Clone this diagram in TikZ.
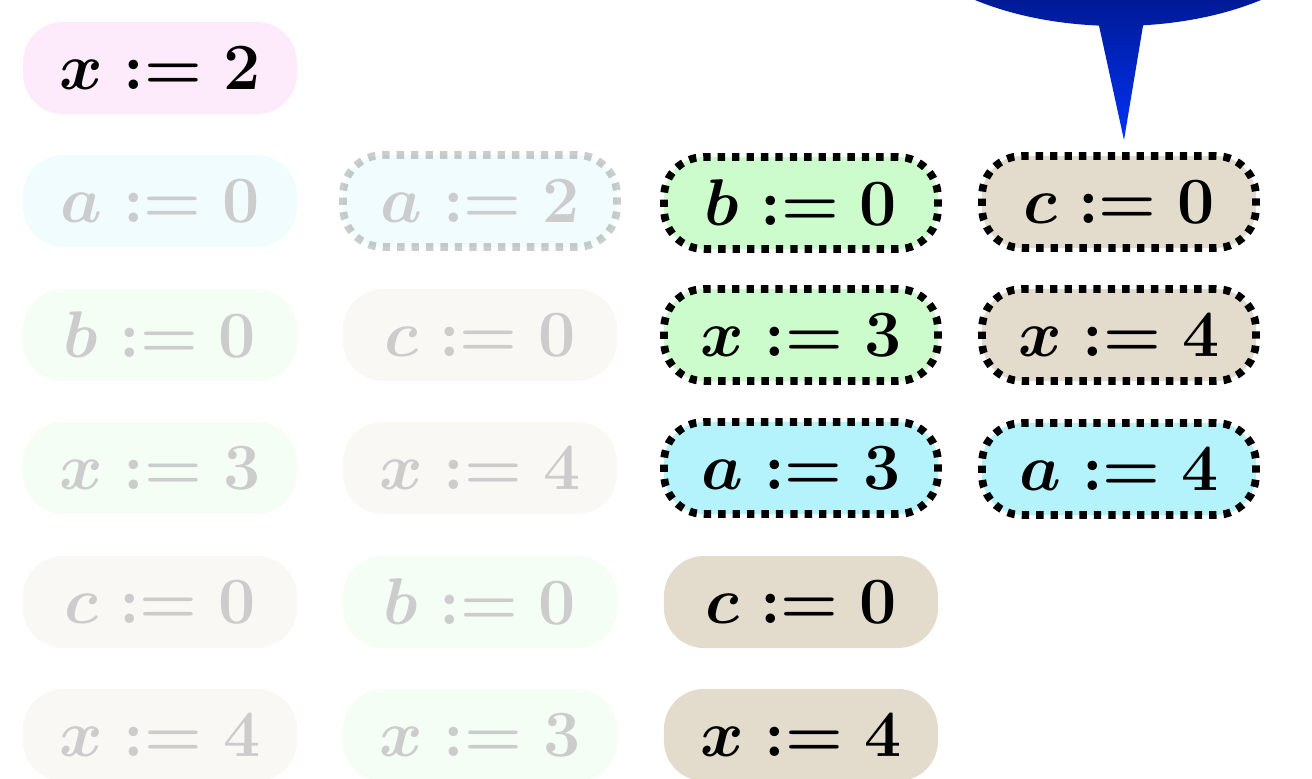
\RequirePackage{fix-cm}
\documentclass[tikz,border=0pt]{standalone}
\usepackage{xcolor}
\definecolor{stmtpink}{RGB}{253,235,251}
\definecolor{stmtcyan}{RGB}{180,242,252}
\definecolor{stmtgreen}{RGB}{204,252,204}
\definecolor{stmttan}{RGB}{227,220,204}
\definecolor{hintdark}{RGB}{0,20,125}
\definecolor{hintlight}{RGB}{0,50,245}
\usepackage{tikz}
\usetikzlibrary{
    shapes.callouts,
    positioning
}
\tikzset{
    assign/.style={rectangle, rounded corners=0.4cm, minimum width=2.74cm,
        minimum height=0.92cm, inner sep=0pt,
        font=\fontsize{18.8}{23}\selectfont\boldmath},
    inactive/.style={fill opacity=0.2, draw opacity=0.2, text=black!20, text opacity=1},
    watched/.style={draw=black, line width=2.2pt, dash pattern=on 2.1pt off 2.0pt}
}

\begin{document}
\begin{tikzpicture}
        \useasboundingbox (0,0) rectangle (13.12,-7.78);
        \clip (0,0) rectangle (13.12,-7.78);

        % Current assignment
        \node[assign, fill=stmtpink] (x2) at (1.60,-0.68) {$x := 2$};

        % First branch (faded)
        \node[assign, inactive, fill=stmtcyan] (a0l) at (1.60,-2.01) {$a := 0$};
        \node[assign, inactive, fill=stmtgreen] (b0l) at (1.60,-3.35) {$b := 0$};
        \node[assign, inactive, fill=stmtgreen] (x3l) at (1.60,-4.68) {$x := 3$};
        \node[assign, inactive, fill=stmttan] (c0l) at (1.60,-6.02) {$c := 0$};
        \node[assign, inactive, fill=stmttan] (x4l) at (1.60,-7.35) {$x := 4$};

        % Second branch (faded)
        \node[assign, inactive, watched, fill=stmtcyan] (a2m) at (4.80,-2.01) {$a := 2$};
        \node[assign, inactive, fill=stmttan] (c0m) at (4.80,-3.35) {$c := 0$};
        \node[assign, inactive, fill=stmttan] (x4m) at (4.80,-4.68) {$x := 4$};
        \node[assign, inactive, fill=stmtgreen] (b0m) at (4.80,-6.02) {$b := 0$};
        \node[assign, inactive, fill=stmtgreen] (x3m) at (4.80,-7.35) {$x := 3$};

        % Third branch
        \node[assign, watched, fill=stmtgreen] (b0r) at (8.01,-2.03) {$b := 0$};
        \node[assign, watched, fill=stmtgreen] (x3r) at (8.01,-3.35) {$x := 3$};
        \node[assign, watched, fill=stmtcyan] (a3r) at (8.01,-4.68) {$a := 3$};
        \node[assign, fill=stmttan] (c0r) at (8.01,-6.02) {$c := 0$};
        \node[assign, fill=stmttan] (x4r) at (8.01,-7.35) {$x := 4$};

        % Fourth branch
        \node[assign, watched, fill=stmttan] (c0e) at (11.19,-2.02) {$c := 0$};
        \node[assign, watched, fill=stmttan] (x4e) at (11.19,-3.35) {$x := 4$};
        \node[assign, watched, fill=stmtcyan] (a4e) at (11.19,-4.69) {$a := 4$};

        % Callout
        \coordinate (tip) at (11.24,-1.40);
        \node[ellipse callout, top color=hintdark, bottom color=hintlight, middle color=hintdark,
            minimum width=4.6cm, minimum height=2.4cm, inner sep=0pt,
            callout pointer arc=11, callout absolute pointer=(tip)] (hint) at (11.18,0.94) {};
    \end{tikzpicture}
\end{document}
